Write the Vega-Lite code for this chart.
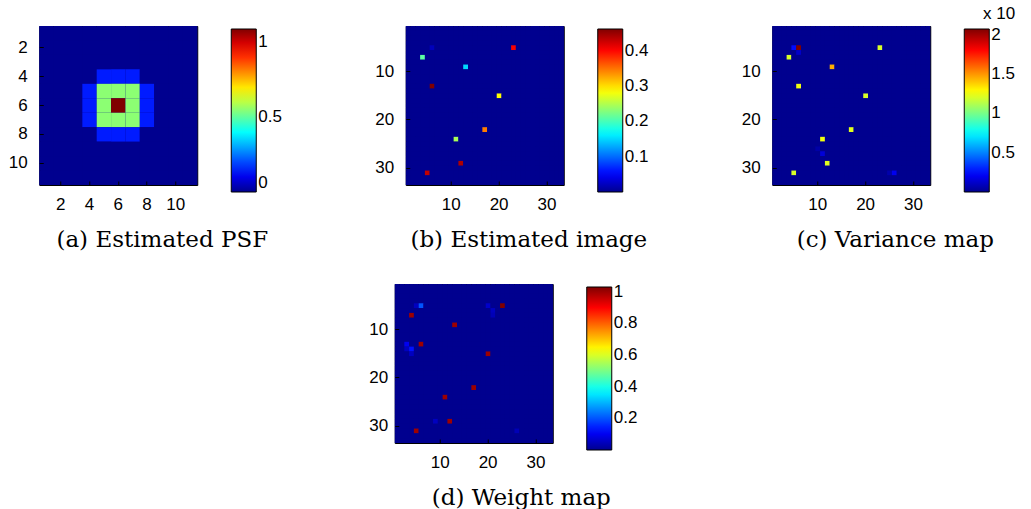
{
"$schema": "https://vega.github.io/schema/vega-lite/v6.json",
"background": "#ffffff",
"padding": {"left": 7, "top": 5, "right": 5, "bottom": 0},
"center": true,
"spacing": 11,
"config": {
  "view": {"stroke": "#000000", "strokeWidth": 1, "fill": "#00008F"},
  "axis": {"domain": false, "grid": false, "ticks": true, "tickSize": -4, "tickColor": "#000000", "tickWidth": 1, "labelFont": "Liberation Sans", "labelFontSize": 17, "labelColor": "#000000", "labelAngle": 0},
  "axisX": {"labelPadding": 15},
  "axisY": {"labelPadding": 16},
  "legend": {"orient": "none", "direction": "vertical", "gradientLength": 163, "gradientThickness": 25, "gradientStrokeColor": "#000000", "gradientStrokeWidth": 1, "labelFont": "Liberation Sans", "labelFontSize": 17, "labelColor": "#000000", "labelOffset": 3, "labelOverlap": false, "labelBaseline": "middle", "padding": 0, "titleFont": "Liberation Sans", "titleFontSize": 16, "titleFontWeight": "normal", "titleColor": "#000000"},
  "title": {"font": "DejaVu Serif", "fontSize": 23, "fontWeight": "normal", "color": "#000000", "orient": "bottom", "anchor": "middle", "frame": "bounds", "offset": 17}
},
"datasets": {
  "psf": [
    {"r":1,"v":[0,0,0,0,0,0,0,0,0,0,0]},
    {"r":2,"v":[0,0,0,0,0,0,0,0,0,0,0]},
    {"r":3,"v":[0,0,0,0,0,0,0,0,0,0,0]},
    {"r":4,"v":[0,0,0,0,0.15,0.15,0.15,0,0,0,0]},
    {"r":5,"v":[0,0,0,0.15,0.55,0.55,0.55,0.15,0,0,0]},
    {"r":6,"v":[0,0,0,0.15,0.55,1.09,0.55,0.15,0,0,0]},
    {"r":7,"v":[0,0,0,0.15,0.55,0.55,0.55,0.15,0,0,0]},
    {"r":8,"v":[0,0,0,0,0.15,0.15,0.15,0,0,0,0]},
    {"r":9,"v":[0,0,0,0,0,0,0,0,0,0,0]},
    {"r":10,"v":[0,0,0,0,0,0,0,0,0,0,0]},
    {"r":11,"v":[0,0,0,0,0,0,0,0,0,0,0]}
  ],
  "img": [
    {"r":1,"v":[0,0,0,0,0,0,0,0,0,0,0,0,0,0,0,0,0,0,0,0,0,0,0,0,0,0,0,0,0,0,0,0,0]},
    {"r":2,"v":[0,0,0,0,0,0,0,0,0,0,0,0,0,0,0,0,0,0,0,0,0,0,0,0,0,0,0,0,0,0,0,0,0]},
    {"r":3,"v":[0,0,0,0,0,0,0,0,0,0,0,0,0,0,0,0,0,0,0,0,0,0,0,0,0,0,0,0,0,0,0,0,0]},
    {"r":4,"v":[0,0,0,0,0,0,0,0,0,0,0,0,0,0,0,0,0,0,0,0,0,0,0,0,0,0,0,0,0,0,0,0,0]},
    {"r":5,"v":[0,0,0,0,0,0.02,0,0,0,0,0,0,0,0,0,0,0,0,0,0,0,0,0.405,0,0,0,0,0,0,0,0,0,0]},
    {"r":6,"v":[0,0,0,0,0,0,0,0,0,0,0,0,0,0,0,0,0,0,0,0,0,0,0,0,0,0,0,0,0,0,0,0,0]},
    {"r":7,"v":[0,0,0,0.21,0,0,0,0,0,0,0,0,0,0,0,0,0,0,0,0,0,0,0,0,0,0,0,0,0,0,0,0,0]},
    {"r":8,"v":[0,0,0,0,0,0,0,0,0,0,0,0,0,0,0,0,0,0,0,0,0,0,0,0,0,0,0,0,0,0,0,0,0]},
    {"r":9,"v":[0,0,0,0,0,0,0,0,0,0,0,0,0.15,0,0,0,0,0,0,0,0,0,0,0,0,0,0,0,0,0,0,0,0]},
    {"r":10,"v":[0,0,0,0,0,0,0,0,0,0,0,0,0,0,0,0,0,0,0,0,0,0,0,0,0,0,0,0,0,0,0,0,0]},
    {"r":11,"v":[0,0,0,0,0,0,0,0,0,0,0,0,0,0,0,0,0,0,0,0,0,0,0,0,0,0,0,0,0,0,0,0,0]},
    {"r":12,"v":[0,0,0,0,0,0,0,0,0,0,0,0,0,0,0,0,0,0,0,0,0,0,0,0,0,0,0,0,0,0,0,0,0]},
    {"r":13,"v":[0,0,0,0,0,0.461,0,0,0,0,0,0,0,0,0,0,0,0,0,0,0,0,0,0,0,0,0,0,0,0,0,0,0]},
    {"r":14,"v":[0,0,0,0,0,0,0,0,0,0,0,0,0,0,0,0,0,0,0,0,0,0,0,0,0,0,0,0,0,0,0,0,0]},
    {"r":15,"v":[0,0,0,0,0,0,0,0,0,0,0,0,0,0,0,0,0,0,0,0.285,0,0,0,0,0,0,0,0,0,0,0,0,0]},
    {"r":16,"v":[0,0,0,0,0,0,0,0,0,0,0,0,0,0,0,0,0,0,0,0,0,0,0,0,0,0,0,0,0,0,0,0,0]},
    {"r":17,"v":[0,0,0,0,0,0,0,0,0,0,0,0,0,0,0,0,0,0,0,0,0,0,0,0,0,0,0,0,0,0,0,0,0]},
    {"r":18,"v":[0,0,0,0,0,0,0,0,0,0,0,0,0,0,0,0,0,0,0,0,0,0,0,0,0,0,0,0,0,0,0,0,0]},
    {"r":19,"v":[0,0,0,0,0,0,0,0,0,0,0,0,0,0,0,0,0,0,0,0,0,0,0,0,0,0,0,0,0,0,0,0,0]},
    {"r":20,"v":[0,0,0,0,0,0,0,0,0,0,0,0,0,0,0,0,0,0,0,0,0,0,0,0,0,0,0,0,0,0,0,0,0]},
    {"r":21,"v":[0,0,0,0,0,0,0,0,0,0,0,0,0,0,0,0,0,0,0,0,0,0,0,0,0,0,0,0,0,0,0,0,0]},
    {"r":22,"v":[0,0,0,0,0,0,0,0,0,0,0,0,0,0,0,0,0.345,0,0,0,0,0,0,0,0,0,0,0,0,0,0,0,0]},
    {"r":23,"v":[0,0,0,0,0,0,0,0,0,0,0,0,0,0,0,0,0,0,0,0,0,0,0,0,0,0,0,0,0,0,0,0,0]},
    {"r":24,"v":[0,0,0,0,0,0,0,0,0,0,0.245,0,0,0,0,0,0,0,0,0,0,0,0,0,0,0,0,0,0,0,0,0,0]},
    {"r":25,"v":[0,0,0,0,0,0,0,0,0,0,0,0,0,0,0,0,0,0,0,0,0,0,0,0,0,0,0,0,0,0,0,0,0]},
    {"r":26,"v":[0,0,0,0,0,0,0,0,0,0,0,0,0,0,0,0,0,0,0,0,0,0,0,0,0,0,0,0,0,0,0,0,0]},
    {"r":27,"v":[0,0,0,0,0,0,0,0,0,0,0,0,0,0,0,0,0,0,0,0,0,0,0,0,0,0,0,0,0,0,0,0,0]},
    {"r":28,"v":[0,0,0,0,0,0,0,0,0,0,0,0,0,0,0,0,0,0,0,0,0,0,0,0,0,0,0,0,0,0,0,0,0]},
    {"r":29,"v":[0,0,0,0,0,0,0,0,0,0,0,0.44,0,0,0,0,0,0,0,0,0,0,0,0,0,0,0,0,0,0,0,0,0]},
    {"r":30,"v":[0,0,0,0,0,0,0,0,0,0,0,0,0,0,0,0,0,0,0,0,0,0,0,0,0,0,0,0,0,0,0,0,0]},
    {"r":31,"v":[0,0,0,0,0.43,0,0,0,0,0,0,0,0,0,0,0,0,0,0,0,0,0,0,0,0,0,0,0,0,0,0,0,0]},
    {"r":32,"v":[0,0,0,0,0,0,0,0,0,0,0,0,0,0,0,0,0,0,0,0,0,0,0,0,0,0,0,0,0,0,0,0,0]},
    {"r":33,"v":[0,0,0,0,0,0,0,0,0,0,0,0,0,0,0,0,0,0,0,0,0,0,0,0,0,0,0,0,0,0,0,0,0]}
  ],
  "var": [
    {"r":1,"v":[0,0,0,0,0,0,0,0,0,0,0,0,0,0,0,0,0,0,0,0,0,0,0,0,0,0,0,0,0,0,0,0,0]},
    {"r":2,"v":[0,0,0,0,0,0,0,0,0,0,0,0,0,0,0,0,0,0,0,0,0,0,0,0,0,0,0,0,0,0,0,0,0]},
    {"r":3,"v":[0,0,0,0,0,0,0,0,0,0,0,0,0,0,0,0,0,0,0,0,0,0,0,0,0,0,0,0,0,0,0,0,0]},
    {"r":4,"v":[0,0,0,0,0,0,0,0,0,0,0,0,0,0,0,0,0,0,0,0,0,0,0,0,0,0,0,0,0,0,0,0,0]},
    {"r":5,"v":[0,0,0,0,0.25,2.07,0,0,0,0,0,0,0,0,0,0,0,0,0,0,0,0,1.2,0,0,0,0,0,0,0,0,0,0]},
    {"r":6,"v":[0,0,0,0,0,0.12,0,0,0,0,0,0,0,0,0,0,0,0,0,0,0,0,0,0,0,0,0,0,0,0,0,0,0]},
    {"r":7,"v":[0,0,0,1.2,0,0,0,0,0,0,0,0,0,0,0,0,0,0,0,0,0,0,0,0,0,0,0,0,0,0,0,0,0]},
    {"r":8,"v":[0,0,0,0,0,0,0,0,0,0,0,0,0,0,0,0,0,0,0,0,0,0,0,0,0,0,0,0,0,0,0,0,0]},
    {"r":9,"v":[0,0,0,0,0,0,0,0,0,0,0,0,1.45,0,0,0,0,0,0,0,0,0,0,0,0,0,0,0,0,0,0,0,0]},
    {"r":10,"v":[0,0,0,0,0,0,0,0,0,0,0,0,0,0,0,0,0,0,0,0,0,0,0,0,0,0,0,0,0,0,0,0,0]},
    {"r":11,"v":[0,0,0,0,0,0,0,0,0,0,0,0,0,0,0,0,0,0,0,0,0,0,0,0,0,0,0,0,0,0,0,0,0]},
    {"r":12,"v":[0,0,0,0,0,0,0,0,0,0,0,0,0,0,0,0,0,0,0,0,0,0,0,0,0,0,0,0,0,0,0,0,0]},
    {"r":13,"v":[0,0,0,0,0,1.25,0,0,0,0,0,0,0,0,0,0,0,0,0,0,0,0,0,0,0,0,0,0,0,0,0,0,0]},
    {"r":14,"v":[0,0,0,0,0,0,0,0,0,0,0,0,0,0,0,0,0,0,0,0,0,0,0,0,0,0,0,0,0,0,0,0,0]},
    {"r":15,"v":[0,0,0,0,0,0,0,0,0,0,0,0,0,0,0,0,0,0,0,1.2,0,0,0,0,0,0,0,0,0,0,0,0,0]},
    {"r":16,"v":[0,0,0,0,0,0,0,0,0,0,0,0,0,0,0,0,0,0,0,0,0,0,0,0,0,0,0,0,0,0,0,0,0]},
    {"r":17,"v":[0,0,0,0,0,0,0,0,0,0,0,0,0,0,0,0,0,0,0,0,0,0,0,0,0,0,0,0,0,0,0,0,0]},
    {"r":18,"v":[0,0,0,0,0,0,0,0,0,0,0,0,0,0,0,0,0,0,0,0,0,0,0,0,0,0,0,0,0,0,0,0,0]},
    {"r":19,"v":[0,0,0,0,0,0,0,0,0,0,0,0,0,0,0,0,0,0,0,0,0,0,0,0,0,0,0,0,0,0,0,0,0]},
    {"r":20,"v":[0,0,0,0,0,0,0,0,0,0,0,0,0,0,0,0,0,0,0,0,0,0,0,0,0,0,0,0,0,0,0,0,0]},
    {"r":21,"v":[0,0,0,0,0,0,0,0,0,0,0,0,0,0,0,0,0,0,0,0,0,0,0,0,0,0,0,0,0,0,0,0,0]},
    {"r":22,"v":[0,0,0,0,0,0,0,0,0,0,0,0,0,0,0,0,1.22,0,0,0,0,0,0,0,0,0,0,0,0,0,0,0,0]},
    {"r":23,"v":[0,0,0,0,0,0,0,0,0,0,0,0,0,0,0,0,0,0,0,0,0,0,0,0,0,0,0,0,0,0,0,0,0]},
    {"r":24,"v":[0,0,0,0,0,0,0,0,0,0,1.25,0,0,0,0,0,0,0,0,0,0,0,0,0,0,0,0,0,0,0,0,0,0]},
    {"r":25,"v":[0,0,0,0,0,0,0,0,0,0,0,0,0,0,0,0,0,0,0,0,0,0,0,0,0,0,0,0,0,0,0,0,0]},
    {"r":26,"v":[0,0,0,0,0,0,0,0,0,0.05,0,0,0,0,0,0,0,0,0,0,0,0,0,0,0,0,0,0,0,0,0,0,0]},
    {"r":27,"v":[0,0,0,0,0,0,0,0,0,0,0.15,0,0,0,0,0,0,0,0,0,0,0,0,0,0,0,0,0,0,0,0,0,0]},
    {"r":28,"v":[0,0,0,0,0,0,0,0,0,0,0,0,0,0,0,0,0,0,0,0,0,0,0,0,0,0,0,0,0,0,0,0,0]},
    {"r":29,"v":[0,0,0,0,0,0,0,0,0,0,0,1.22,0,0,0,0,0,0,0,0,0,0,0,0,0,0,0,0,0,0,0,0,0]},
    {"r":30,"v":[0,0,0,0,0,0,0,0,0,0,0,0,0,0,0,0,0,0,0,0,0,0,0,0,0,0,0,0,0,0,0,0,0]},
    {"r":31,"v":[0,0,0,0,1.2,0,0,0,0,0,0,0,0,0,0,0,0,0,0,0,0,0,0,0,0.06,0.2,0,0,0,0,0,0,0]},
    {"r":32,"v":[0,0,0,0,0,0,0,0,0,0,0,0,0,0,0,0,0,0,0,0,0,0,0,0,0,0,0,0,0,0,0,0,0]},
    {"r":33,"v":[0,0,0,0,0,0,0,0,0,0,0,0,0,0,0,0,0,0,0,0,0,0,0,0,0,0,0,0,0,0,0,0,0]}
  ],
  "wt": [
    {"r":1,"v":[0,0,0,0,0,0,0,0,0,0,0,0,0,0,0,0,0,0,0,0,0,0,0,0,0,0,0,0,0,0,0,0,0]},
    {"r":2,"v":[0,0,0,0,0,0,0,0,0,0,0,0,0,0,0,0,0,0,0,0,0,0,0,0,0,0,0,0,0,0,0,0,0]},
    {"r":3,"v":[0,0,0,0,0,0,0,0,0,0,0,0,0,0,0,0,0,0,0,0,0,0,0,0,0,0,0,0,0,0,0,0,0]},
    {"r":4,"v":[0,0,0,0,0,0,0,0,0,0,0,0,0,0,0,0,0,0,0,0,0,0,0,0,0,0,0,0,0,0,0,0,0]},
    {"r":5,"v":[0,0,0,0,0.05,0.2,0,0,0,0,0,0,0,0,0,0,0,0,0,0.06,0,0,1.03,0,0,0,0,0,0,0,0,0,0]},
    {"r":6,"v":[0,0,0,0,0,0,0,0,0,0,0,0,0,0,0,0,0,0,0,0,0.05,0,0,0,0,0,0,0,0,0,0,0,0]},
    {"r":7,"v":[0,0,0,1,0,0,0,0,0,0,0,0,0,0,0,0,0,0,0,0,0.04,0,0,0,0,0,0,0,0,0,0,0,0]},
    {"r":8,"v":[0,0,0,0,0,0,0,0,0,0,0,0,0,0,0,0,0,0,0,0,0,0,0,0,0,0,0,0,0,0,0,0,0]},
    {"r":9,"v":[0,0,0,0,0,0,0,0,0,0,0,0,1,0,0,0,0,0,0,0,0,0,0,0,0,0,0,0,0,0,0,0,0]},
    {"r":10,"v":[0,0,0,0,0,0,0,0,0,0,0,0,0,0,0,0,0,0,0,0,0,0,0,0,0,0,0,0,0,0,0,0,0]},
    {"r":11,"v":[0,0,0,0,0,0,0,0,0,0,0,0,0,0,0,0,0,0,0,0,0,0,0,0,0,0,0,0,0,0,0,0,0]},
    {"r":12,"v":[0,0,0,0,0,0,0,0,0,0,0,0,0,0,0,0,0,0,0,0,0,0,0,0,0,0,0,0,0,0,0,0,0]},
    {"r":13,"v":[0,0,0.1,0,0,1,0,0,0,0,0,0,0,0,0,0,0,0,0,0,0,0,0,0,0,0,0,0,0,0,0,0,0]},
    {"r":14,"v":[0,0,0.05,0.13,0,0,0,0,0,0,0,0,0,0,0,0,0,0,0,0,0,0,0,0,0,0,0,0,0,0,0,0,0]},
    {"r":15,"v":[0,0,0,0.05,0,0,0,0,0,0,0,0,0,0,0,0,0,0,0,1,0,0,0,0,0,0,0,0,0,0,0,0,0]},
    {"r":16,"v":[0,0,0,0,0,0,0,0,0,0,0,0,0,0,0,0,0,0,0,0,0,0,0,0,0,0,0,0,0,0,0,0,0]},
    {"r":17,"v":[0,0,0,0,0,0,0,0,0,0,0,0,0,0,0,0,0,0,0,0,0,0,0,0,0,0,0,0,0,0,0,0,0]},
    {"r":18,"v":[0,0,0,0,0,0,0,0,0,0,0,0,0,0,0,0,0,0,0,0,0,0,0,0,0,0,0,0,0,0,0,0,0]},
    {"r":19,"v":[0,0,0,0,0,0,0,0,0,0,0,0,0,0,0,0,0,0,0,0,0,0,0,0,0,0,0,0,0,0,0,0,0]},
    {"r":20,"v":[0,0,0,0,0,0,0,0,0,0,0,0,0,0,0,0,0,0,0,0,0,0,0,0,0,0,0,0,0,0,0,0,0]},
    {"r":21,"v":[0,0,0,0,0,0,0,0,0,0,0,0,0,0,0,0,0,0,0,0,0,0,0,0,0,0,0,0,0,0,0,0,0]},
    {"r":22,"v":[0,0,0,0,0,0,0,0,0,0,0,0,0,0,0,0,1,0,0,0,0,0,0,0,0,0,0,0,0,0,0,0,0]},
    {"r":23,"v":[0,0,0,0,0,0,0,0,0,0,0,0,0,0,0,0,0,0,0,0,0,0,0,0,0,0,0,0,0,0,0,0,0]},
    {"r":24,"v":[0,0,0,0,0,0,0,0,0,0,1,0,0,0,0,0,0,0,0,0,0,0,0,0,0,0,0,0,0,0,0,0,0]},
    {"r":25,"v":[0,0,0,0,0,0,0,0,0,0,0,0,0,0,0,0,0,0,0,0,0,0,0,0,0,0,0,0,0,0,0,0,0]},
    {"r":26,"v":[0,0,0,0,0,0,0,0,0,0,0,0,0,0,0,0,0,0,0,0,0,0,0,0,0,0,0,0,0,0,0,0,0]},
    {"r":27,"v":[0,0,0,0,0,0,0,0,0,0,0,0,0,0,0,0,0,0,0,0,0,0,0,0,0,0,0,0,0,0,0,0,0]},
    {"r":28,"v":[0,0,0,0,0,0,0,0,0,0,0,0,0,0,0,0,0,0,0,0,0,0,0,0,0,0,0,0,0,0,0,0,0]},
    {"r":29,"v":[0,0,0,0,0,0,0,0,0.05,0,0,1,0,0,0,0,0,0,0,0,0,0,0,0,0,0,0,0,0,0,0,0,0]},
    {"r":30,"v":[0,0,0,0,0,0,0,0,0,0,0,0,0,0,0,0,0,0,0,0,0,0,0,0,0,0,0,0,0,0,0,0,0]},
    {"r":31,"v":[0,0,0,0,1,0,0,0,0,0,0,0,0,0,0,0,0,0,0,0,0,0,0,0,0,0.04,0,0,0,0,0,0,0]},
    {"r":32,"v":[0,0,0,0,0,0,0,0,0,0,0,0,0,0,0,0,0,0,0,0,0,0,0,0,0,0,0,0,0,0,0,0,0]},
    {"r":33,"v":[0,0,0,0,0,0,0,0,0,0,0,0,0,0,0,0,0,0,0,0,0,0,0,0,0,0,0,0,0,0,0,0,0]}
  ]
},
"resolve": {"scale": {"color": "independent"}, "legend": {"color": "independent"}},
"vconcat": [
  {
    "hconcat": [
      {
        "data": {"name": "psf"},
        "transform": [{"flatten": ["v"], "as": ["val"]}, {"window": [{"op": "row_number", "as": "c"}], "groupby": ["r"]}],
        "width": 158, "height": 159,
        "title": {"text": "(a) Estimated PSF", "dx": 17},
        "mark": {"type": "rect"},
        "encoding": {
          "x": {"field": "c", "type": "ordinal", "scale": {"paddingInner": 0, "paddingOuter": 0, "round": false}, "axis": {"values": [2,4,6,8,10], "title": null}},
          "y": {"field": "r", "type": "ordinal", "scale": {"paddingInner": 0, "paddingOuter": 0, "round": false}, "axis": {"values": [2,4,6,8,10], "title": null}},
          "color": {"field": "val", "type": "quantitative",
            "scale": {"domain": [0, 0.121, 0.398, 0.675, 0.952, 1.09], "range": ["#00008F", "#0000FF", "#00FFFF", "#FFFF00", "#FF0000", "#800000"], "interpolate": "rgb", "nice": false},
            "legend": {"values": [0, 0.5, 1], "format": ".1~f", "title": null, "legendX": 192, "legendY": 3}}
        }
      },
      {
        "data": {"name": "img"},
        "transform": [{"flatten": ["v"], "as": ["val"]}, {"window": [{"op": "row_number", "as": "c"}], "groupby": ["r"]}],
        "width": 158, "height": 159,
        "title": {"text": "(b) Estimated image", "dx": 17},
        "mark": {"type": "rect"},
        "encoding": {
          "x": {"field": "c", "type": "ordinal", "scale": {"paddingInner": 0, "paddingOuter": 0, "round": false}, "axis": {"values": [10,20,30], "title": null}},
          "y": {"field": "r", "type": "ordinal", "scale": {"paddingInner": 0, "paddingOuter": 0, "round": false}, "axis": {"values": [10,20,30], "title": null}},
          "color": {"field": "val", "type": "quantitative",
            "scale": {"domain": [0, 0.0512, 0.168, 0.285, 0.402, 0.461], "range": ["#00008F", "#0000FF", "#00FFFF", "#FFFF00", "#FF0000", "#800000"], "interpolate": "rgb", "nice": false},
            "legend": {"values": [0.1, 0.2, 0.3, 0.4], "format": ".1~f", "title": null, "legendX": 192, "legendY": 3}}
        }
      },
      {
        "data": {"name": "var"},
        "transform": [{"flatten": ["v"], "as": ["val"]}, {"window": [{"op": "row_number", "as": "c"}], "groupby": ["r"]}],
        "width": 158, "height": 159,
        "title": {"text": "(c) Variance map", "dx": 17},
        "mark": {"type": "rect"},
        "encoding": {
          "x": {"field": "c", "type": "ordinal", "scale": {"paddingInner": 0, "paddingOuter": 0, "round": false}, "axis": {"values": [10,20,30], "title": null}},
          "y": {"field": "r", "type": "ordinal", "scale": {"paddingInner": 0, "paddingOuter": 0, "round": false}, "axis": {"values": [10,20,30], "title": null}},
          "color": {"field": "val", "type": "quantitative",
            "scale": {"domain": [0, 0.230, 0.756, 1.281, 1.807, 2.07], "range": ["#00008F", "#0000FF", "#00FFFF", "#FFFF00", "#FF0000", "#800000"], "interpolate": "rgb", "nice": false},
            "legend": {"values": [0.5, 1, 1.5, 2], "format": ".1~f", "title": "x 10", "titleFontSize": 17, "titleAnchor": "end", "titlePadding": 6, "legendX": 192, "legendY": -20}}
        }
      }
    ],
    "spacing": 208.5,
    "bounds": "flush",
    "resolve": {"scale": {"color": "independent"}, "legend": {"color": "independent"}}
  },
  {
    "data": {"name": "wt"},
    "transform": [{"flatten": ["v"], "as": ["val"]}, {"window": [{"op": "row_number", "as": "c"}], "groupby": ["r"]}],
    "width": 158, "height": 159,
    "title": {"text": "(d) Weight map", "dx": 7, "dy": -3},
    "mark": {"type": "rect"},
    "encoding": {
      "x": {"field": "c", "type": "ordinal", "scale": {"paddingInner": 0, "paddingOuter": 0, "round": false}, "axis": {"values": [10,20,30], "title": null}},
      "y": {"field": "r", "type": "ordinal", "scale": {"paddingInner": 0, "paddingOuter": 0, "round": false}, "axis": {"values": [10,20,30], "title": null, "labelPadding": 11}},
      "color": {"field": "val", "type": "quantitative",
        "scale": {"domain": [0, 0.114, 0.376, 0.638, 0.899, 1.03], "range": ["#00008F", "#0000FF", "#00FFFF", "#FFFF00", "#FF0000", "#800000"], "interpolate": "rgb", "nice": false},
        "legend": {"values": [0.2, 0.4, 0.6, 0.8, 1], "format": ".1~f", "title": null, "padding": 22, "legendX": 170, "legendY": -19}}
    }
  }
]
}
